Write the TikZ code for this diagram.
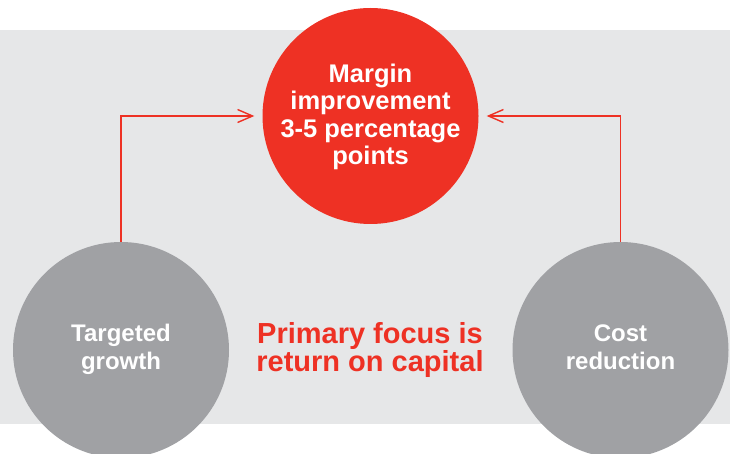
\documentclass[tikz,border=0pt]{standalone}
\usepackage{fontspec}
\setmainfont{Liberation Sans}
\usetikzlibrary{arrows.meta}
\definecolor{brandred}{HTML}{EE3124}
\definecolor{circlegray}{HTML}{A0A1A4}
\definecolor{bandgray}{HTML}{E6E7E8}
\begin{document}
\begin{tikzpicture}[x=1pt,y=-1pt,
  disc/.style={circle,minimum size=216pt,inner sep=0pt,draw=none},
  goal/.style={disc,fill=brandred},
  lever/.style={disc,fill=circlegray},
  label/.style={align=center,inner sep=0pt,anchor=base,text=white,
    font=\bfseries\fontsize{24}{27.6}\selectfont},
  goallabel/.style={label,font=\bfseries\fontsize{25.5}{27.6}\selectfont},
  focus/.style={align=center,inner sep=0pt,anchor=base,text=brandred,
    font=\bfseries\fontsize{29}{28.4}\selectfont},
  link/.style={draw=brandred,line width=1.4pt,
    -{Straight Barb[length=15pt,width=13pt,line width=1.4pt]},shorten >=8pt}]
  \useasboundingbox (0,0) rectangle (730,454);
  \begin{scope}
    \clip (0,0) rectangle (730,454);
    % background band
    \fill[bandgray] (0,30) rectangle (730,424);
    % circles
    \node[goal]  (margin) at (370.5,116) {};
    \node[lever] (growth) at (121,350) {};
    \node[lever] (cost)   at (620.5,350) {};
  \end{scope}
  % texts (anchored at the baseline of their last line)
  \node[goallabel] (margintext) at (370.5,165) {Margin\\improvement\\3-5 percentage\\points};
  \node[label] (growthtext) at (121,369.5) {Targeted\\growth};
  \node[label] (costtext)   at (620.5,369.5) {Cost\\reduction};
  \node[focus] (focustext)  at (370,371.7) {Primary focus is\\return on capital};
  % connectors
  \draw[link] (growth.north) |- (margin.west);
  \draw[link] (cost.north) |- (margin.east);
\end{tikzpicture}
\end{document}
